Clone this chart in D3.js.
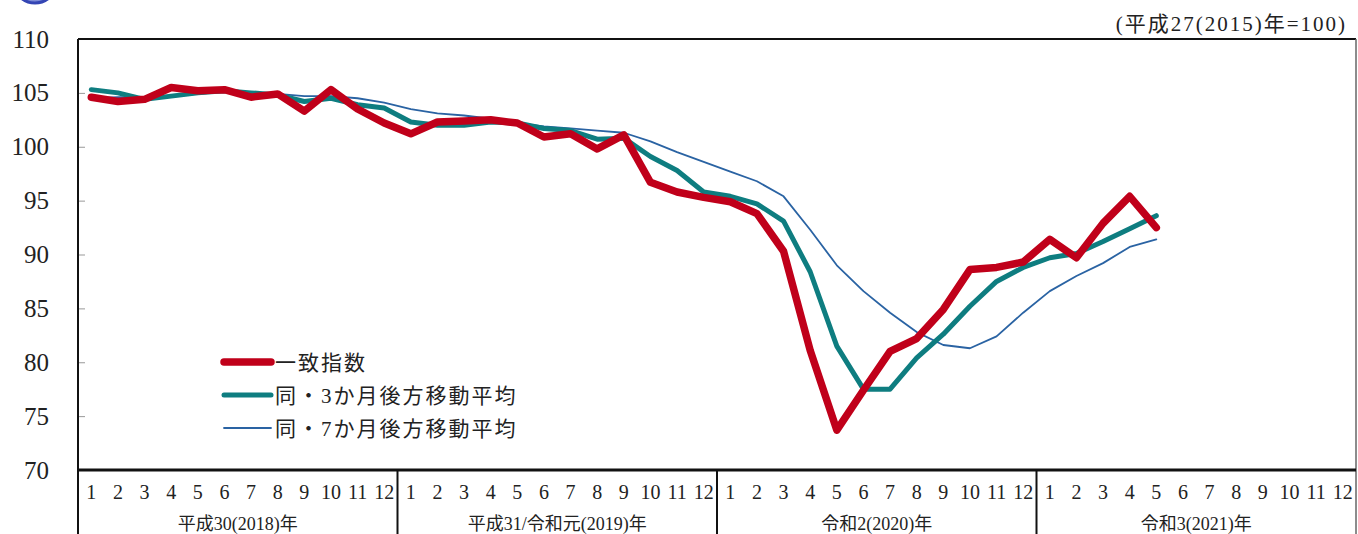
<!DOCTYPE html>
<html>
<head>
<meta charset="utf-8">
<script src="https://cdn.jsdelivr.net/npm/d3@7"></script>
<style>
  body { margin: 0; background: #fff; }
  text { font-family: "Liberation Serif", "Noto Sans CJK JP", serif; fill: #222; }
</style>
</head>
<body>
<svg id="chart"></svg>
<script>
// years and month labels
var years = ["平成30(2018)年", "平成31/令和元(2019)年", "令和2(2020)年", "令和3(2021)年"];
var months = [1, 2, 3, 4, 5, 6, 7, 8, 9, 10, 11, 12];
var yTicks = [70, 75, 80, 85, 90, 95, 100, 105, 110];

// 一致指数 (Jan 2018 - May 2021)
var coincident = [
  104.6, 104.2, 104.4, 105.5, 105.2, 105.3, 104.6, 104.9, 103.3, 105.3, 103.5, 102.2,
  101.2, 102.3, 102.4, 102.5, 102.2, 100.9, 101.2, 99.8, 101.1, 96.7, 95.8, 95.3,
  94.9, 93.8, 90.3, 81.1, 73.7, 77.4, 81.0, 82.2, 84.9, 88.6, 88.8, 89.3,
  91.4, 89.7, 92.9, 95.4, 92.5
];
// 同・3か月後方移動平均
var avg3 = [
  105.3, 105.0, 104.4, 104.7, 105.0, 105.2, 105.0, 104.8, 104.2, 104.5, 103.9, 103.6,
  102.3, 102.0, 102.0, 102.3, 102.2, 101.7, 101.5, 100.7, 100.8, 99.1, 97.8, 95.8,
  95.4, 94.7, 93.1, 88.4, 81.5, 77.5, 77.5, 80.4, 82.6, 85.2, 87.5, 88.8,
  89.7, 90.1, 91.2, 92.4, 93.6
];
// 同・7か月後方移動平均
var avg7 = [
  104.5, 104.6, 104.6, 104.7, 104.9, 105.1, 105.0, 104.9, 104.7, 104.7, 104.5, 104.1,
  103.5, 103.1, 102.9, 102.6, 102.2, 101.9, 101.7, 101.5, 101.3, 100.5, 99.5, 98.6,
  97.7, 96.8, 95.4, 92.3, 89.0, 86.6, 84.6, 82.8, 81.6, 81.3, 82.4, 84.6,
  86.6, 88.0, 89.2, 90.7, 91.4
];

var svgWidth = 1358, svgHeight = 534;
var margin = {top: 39, left: 78, right: 2, bottom: 64};
var plotRight = svgWidth - margin.right,
    plotBottom = svgHeight - margin.bottom;

var svg = d3.select("#chart")
  .attr("width", svgWidth)
  .attr("height", svgHeight);

// month slots (4 years x 12 months)
var slots = [];
years.forEach(function(y, yi) {
  months.forEach(function(m) { slots.push(yi * 12 + m - 1); });
});

var xScale = d3.scaleBand()
  .domain(slots)
  .range([margin.left, plotRight]);

var bw = xScale.bandwidth();

var yScale = d3.scaleLinear()
  .domain([70, 110])
  .range([plotBottom, margin.top]);

// blue mark in the top-left corner
svg.append("circle")
  .attr("cx", 35).attr("cy", -19).attr("r", 22)
  .attr("fill", "#7d8bd6")
  .attr("stroke", "#3445b4")
  .attr("stroke-width", 3);

// y axis, ticks inside
var yAxis = svg.append("g")
  .attr("transform", "translate(" + margin.left + ",0)")
  .call(d3.axisLeft(yScale).tickValues(yTicks).tickSizeInner(-7).tickSizeOuter(0).tickPadding(29));
yAxis.select(".domain").remove();
yAxis.selectAll("line").attr("stroke", "#999");
yAxis.selectAll("text")
  .style("font-size", "25px")
  .style("font-family", "Liberation Serif")
  .attr("fill", "#222");

// month labels
var xAxis = svg.append("g")
  .attr("transform", "translate(0," + plotBottom + ")")
  .call(d3.axisBottom(xScale).tickSize(0).tickPadding(15)
    .tickFormat(function(d) { return months[d % 12]; }));
xAxis.select(".domain").remove();
xAxis.selectAll("text")
  .style("font-size", "20px")
  .style("font-family", "Liberation Serif")
  .attr("fill", "#222");

// year labels
svg.selectAll(".yearLabel")
  .data(years)
  .enter()
  .append("text")
  .attr("class", "yearLabel")
  .attr("x", function(d, i) { return xScale(i * 12) + bw * 6; })
  .attr("y", 530)
  .attr("text-anchor", "middle")
  .style("font-size", "18px")
  .text(function(d) { return d; });

// frame
svg.append("line")
  .attr("x1", margin.left).attr("x2", plotRight)
  .attr("y1", margin.top).attr("y2", margin.top)
  .attr("stroke", "#111").attr("stroke-width", 2);
svg.append("line")
  .attr("x1", margin.left).attr("x2", margin.left)
  .attr("y1", margin.top).attr("y2", svgHeight)
  .attr("stroke", "#111").attr("stroke-width", 2);
svg.append("line")
  .attr("x1", plotRight).attr("x2", plotRight)
  .attr("y1", margin.top).attr("y2", svgHeight)
  .attr("stroke", "#666").attr("stroke-width", 1.5);
svg.append("line")
  .attr("x1", margin.left).attr("x2", plotRight)
  .attr("y1", plotBottom).attr("y2", plotBottom)
  .attr("stroke", "#111").attr("stroke-width", 3);

// year separators
svg.selectAll(".sep")
  .data(years.slice(1))
  .enter()
  .append("line")
  .attr("class", "sep")
  .attr("x1", function(d, i) { return xScale((i + 1) * 12); })
  .attr("x2", function(d, i) { return xScale((i + 1) * 12); })
  .attr("y1", plotBottom).attr("y2", svgHeight)
  .attr("stroke", "#111").attr("stroke-width", 2);

// lines
var line = d3.line()
  .x(function(d, i) { return xScale(i) + bw / 2; })
  .y(function(d) { return yScale(d); });

var series = [
  {name: "同・7か月後方移動平均", values: avg7, color: "#2a63a3", width: 1.8},
  {name: "同・3か月後方移動平均", values: avg3, color: "#0e7d80", width: 5},
  {name: "一致指数", values: coincident, color: "#c0001a", width: 7.5}
];

svg.selectAll(".series")
  .data(series)
  .enter()
  .append("path")
  .attr("class", "series")
  .attr("d", function(d) { return line(d.values); })
  .attr("fill", "none")
  .attr("stroke", function(d) { return d.color; })
  .attr("stroke-width", function(d) { return d.width; })
  .attr("stroke-linejoin", "round")
  .attr("stroke-linecap", "round");

// legend
var legendItems = [series[2], series[1], series[0]];
var legend = svg.selectAll(".legend")
  .data(legendItems)
  .enter()
  .append("g")
  .attr("class", "legend")
  .attr("transform", function(d, i) { return "translate(224," + (362 + i * 33) + ")"; });

legend.append("line")
  .attr("x1", 0).attr("x2", 47)
  .attr("stroke", function(d) { return d.color; })
  .attr("stroke-width", function(d) { return d.width; })
  .attr("stroke-linecap", "round");

legend.append("text")
  .attr("x", 51)
  .attr("dy", "0.36em")
  .style("font-size", "21px")
  .style("letter-spacing", "2px")
  .text(function(d) { return d.name; });

// base note
svg.append("text")
  .attr("x", 1347)
  .attr("y", 31)
  .attr("text-anchor", "end")
  .style("font-size", "21px")
  .style("letter-spacing", "2px")
  .text("(平成27(2015)年=100)");
</script>
</body>
</html>
